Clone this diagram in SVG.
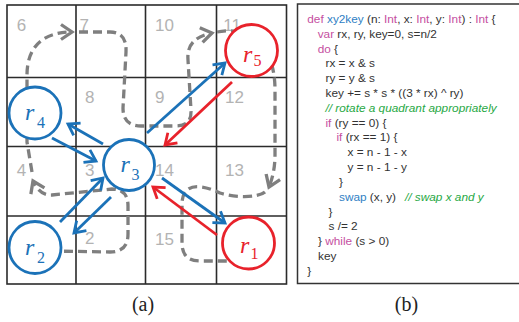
<svg xmlns="http://www.w3.org/2000/svg" width="519" height="322" viewBox="0 0 519 322">
<style>
.grid{stroke:#2b2b2b;stroke-width:1.6;fill:none}
.num{font-family:"Liberation Sans",Arial,sans-serif;font-size:17px;fill:#b3b3b3}
.dash{fill:none;stroke:#7f7f7f;stroke-width:3.3;stroke-dasharray:9 5}
.nb{fill:#fff;stroke:#1b72b8;stroke-width:2.8}
.nr{fill:#fff;stroke:#e8222b;stroke-width:2.8}
.ab{stroke:#1b72b8;stroke-width:2.8;fill:none;marker-end:url(#mb)}
.ar{stroke:#e8222b;stroke-width:2.8;fill:none;marker-end:url(#mr)}
.lr{font-family:"Liberation Serif","Times New Roman",serif;font-style:italic;font-size:24px}
.ls{font-family:"Liberation Serif","Times New Roman",serif;font-size:16px}
.bl{fill:#1b72b8}
.rd{fill:#e8222b}
.c{font-family:"Liberation Sans",Arial,sans-serif;font-size:11.8px;fill:#333}
.k{fill:#c54f9f}
.f{fill:#2f80c4}
.g{fill:#27a844;font-style:italic}
.cap{font-family:"Liberation Serif","Times New Roman",serif;font-size:20px;fill:#222}
</style>
<defs>
<marker id="mb" viewBox="-14 -10 17 20" refX="0" refY="0" markerWidth="17" markerHeight="20" markerUnits="userSpaceOnUse" orient="auto"><path d="M-10.5,-7 L0,0 L-10.5,7" fill="none" stroke="#1b72b8" stroke-width="2.8"/></marker>
<marker id="mr" viewBox="-14 -10 17 20" refX="0" refY="0" markerWidth="17" markerHeight="20" markerUnits="userSpaceOnUse" orient="auto"><path d="M-10.5,-7 L0,0 L-10.5,7" fill="none" stroke="#e8222b" stroke-width="2.8"/></marker>
<marker id="mg" viewBox="-14 -10 17 20" refX="0" refY="0" markerWidth="17" markerHeight="20" markerUnits="userSpaceOnUse" orient="auto"><path d="M-11,-7.5 L0,0 L-11,7.5" fill="none" stroke="#7f7f7f" stroke-width="3.3"/></marker>
</defs>
<g id="grid">
<rect class="grid" x="7" y="5" width="279.5" height="279"/>
<path class="grid" d="M76,5V284M145.5,5V284M216.5,5V284M7,77.5H286.5M7,146.5H286.5M7,216H286.5"/>
</g>
<g id="cells">
<text class="num" x="16.7" y="30.7">6</text>
<text class="num" x="79.5" y="30.7">7</text>
<text class="num" x="155" y="30.7">10</text>
<text class="num" x="223.3" y="30.7">11</text>
<text class="num" x="85" y="103.3">8</text>
<text class="num" x="155" y="103.3">9</text>
<text class="num" x="225" y="103.3">12</text>
<text class="num" x="16.7" y="175.7">4</text>
<text class="num" x="85" y="175.7">3</text>
<text class="num" x="155" y="175.5">14</text>
<text class="num" x="225" y="175.5">13</text>
<text class="num" x="85" y="243.5">2</text>
<text class="num" x="155" y="244.5">15</text>
</g>
<g id="curve">
<path class="dash" d="M50,251 L110,252 Q128,252 128,234 L128,206 Q128,189 112,189 L52,195 Q40,196 33,181" marker-end="url(#mg)"/>
<path class="dash" d="M32,172 L27,142 L27,75 C27,45 45,32 72,32" marker-end="url(#mg)"/>
<path class="dash" d="M79,32 L110,32 Q127,32 126,52 L123,108 Q123,126 141,126 L176,126 Q192,126 191,110 L188,60 Q186,38 212,33" marker-end="url(#mg)"/>
<path class="dash" d="M217,32 Q255,25 270,60 Q275,72 275,90 L275,155 Q275,172 269,187" marker-end="url(#mg)"/>
<path class="dash" d="M265,192 C258,198 235,198 220,193 C205,186 184,180 182,202 L182,243 Q182,261 200,261 L240,261"/>
</g>
<g id="r4"><circle class="nb" cx="35" cy="113" r="26"/><text class="lr bl" x="25" y="120">r</text><text class="ls bl" x="37" y="128">4</text></g>
<g id="r3"><circle class="nb" cx="129" cy="165" r="25.5"/><text class="lr bl" x="120.5" y="172">r</text><text class="ls bl" x="131.5" y="180">3</text></g>
<g id="r2"><circle class="nb" cx="35" cy="247.5" r="26"/><text class="lr bl" x="25" y="255">r</text><text class="ls bl" x="37" y="263">2</text></g>
<g id="r5"><circle class="nr" cx="251.5" cy="50.5" r="26"/><text class="lr rd" x="243" y="61.5">r</text><text class="ls rd" x="253.5" y="65.5">5</text></g>
<g id="r1"><circle class="nr" cx="248.5" cy="243" r="26"/><text class="lr rd" x="240" y="253.3">r</text><text class="ls rd" x="250.5" y="258.5">1</text></g>
<g id="connectors">
<line class="ab" x1="52" y1="138" x2="96" y2="161"/>
<line class="ab" x1="103" y1="144" x2="68" y2="124"/>
<line class="ab" x1="147" y1="133" x2="225" y2="63"/>
<line class="ab" x1="60" y1="222" x2="103" y2="178"/>
<line class="ab" x1="111" y1="197" x2="74" y2="233"/>
<line class="ab" x1="162" y1="178" x2="225" y2="223"/>
<line class="ar" x1="232" y1="82" x2="165" y2="145"/>
<line class="ar" x1="217" y1="235" x2="153" y2="187"/>
</g>
<g id="code">
<rect x="297.5" y="4" width="240" height="279.5" fill="none" stroke="#333" stroke-width="1.5"/>
<text class="c" x="307.3" y="22.8"><tspan class="k">def</tspan> <tspan class="f">xy2key</tspan> (n: <tspan class="k">Int</tspan>, x: <tspan class="k">Int</tspan>, y: <tspan class="k">Int</tspan>) : <tspan class="k">Int</tspan> {</text>
<text class="c" x="317.7" y="37.6"><tspan class="k">var</tspan> rx, ry, key=0, s=n/2</text>
<text class="c" x="317.7" y="52.5"><tspan class="k">do</tspan> {</text>
<text class="c" x="325.5" y="67.3">rx = x &amp; s</text>
<text class="c" x="325.5" y="82.1">ry = y &amp; s</text>
<text class="c" x="325.5" y="97">key += s * s * ((3 * rx) ^ ry)</text>
<text class="c g" x="325.5" y="111.8">// rotate a quadrant appropriately</text>
<text class="c" x="325.5" y="126.6"><tspan class="k">if</tspan> (ry == 0) {</text>
<text class="c" x="336.5" y="141.4"><tspan class="k">if</tspan> (rx == 1) {</text>
<text class="c" x="347.5" y="156.3">x = n - 1 - x</text>
<text class="c" x="347.5" y="171.1">y = n - 1 - y</text>
<text class="c" x="339" y="185.9">}</text>
<text class="c" x="339" y="200.8"><tspan class="f">swap</tspan> (x, y)</text>
<text class="c g" x="405" y="200.8">// swap x and y</text>
<text class="c" x="328.5" y="215.6">}</text>
<text class="c" x="328.5" y="230.4">s /= 2</text>
<text class="c" x="318" y="245.3">} <tspan class="k">while</tspan> (s &gt; 0)</text>
<text class="c" x="318" y="260.1">key</text>
<text class="c" x="307.3" y="274.9">}</text>
</g>
<text class="cap" x="143" y="310.5" text-anchor="middle">(a)</text>
<text class="cap" x="406.5" y="310.5" text-anchor="middle">(b)</text>
</svg>
